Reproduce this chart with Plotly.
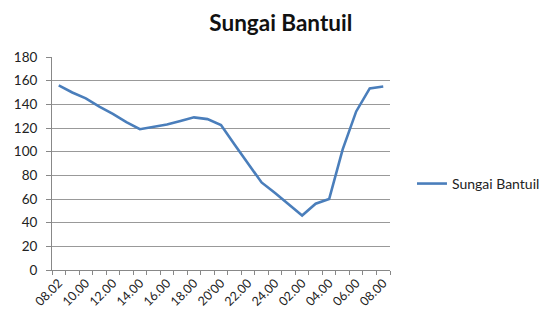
import plotly.graph_objects as go

times = ["08.02", "09.00", "10.00", "11.00", "12.00", "13.00", "14.00", "15.00",
         "16.00", "17.00", "18.00", "19.00", "20'00", "21.00", "22.00", "23.00",
         "24.00", "01.00", "02.00", "03.00", "04.00", "05.00", "06.00", "07.00", "08.00"]
values = [156, 150, 145, 138, 132, 125, 119, 121, 123, 126, 129, 127.5, 122.5, 106, 90, 74,
          65, 55.5, 46, 56, 60, 102, 134, 153.5, 155]
shown_labels = ["08.02", "10.00", "12.00", "14.00", "16.00", "18.00", "20'00",
                "22.00", "24.00", "02.00", "04.00", "06.00", "08.00"]
y_ticks = [0, 20, 40, 60, 80, 100, 120, 140, 160, 180]
series_name = "Sungai Bantuil"

ticktext = [t if t in shown_labels else "" for t in times]

fig = go.Figure()
fig.add_trace(go.Scatter(
    x=times, y=values, mode="lines", name=series_name,
    line=dict(color="#4A7EBB", width=2.6),
))

fig.update_layout(
    width=550, height=318,
    margin=dict(l=44, r=168, t=49, b=56),
    paper_bgcolor="white", plot_bgcolor="white",
    font=dict(family="Lato, Liberation Sans, sans-serif", size=12, color="#222"),
    title=dict(text="<b>Sungai Bantuil</b>", x=0.496, xanchor="center",
               y=0.953, yanchor="middle", font=dict(size=22.5, color="#111")),
    showlegend=True,
    legend=dict(x=1.065, y=0.404, xanchor="left", yanchor="middle",
                font=dict(size=14), bgcolor="rgba(0,0,0,0)"),
    xaxis=dict(type="category", range=[-0.5, len(times) - 0.5], automargin=False,
               tickmode="array", tickvals=times, ticktext=ticktext,
               tickson="boundaries", ticks="outside", ticklen=4, tickcolor="#888",
               tickangle=-45, showgrid=False, showline=True, linecolor="#888",
               linewidth=1, tickfont=dict(size=12.5)),
    yaxis=dict(range=[0, 180], tickvals=y_ticks, showgrid=True, gridcolor="#999",
               gridwidth=1, showline=True, linecolor="#888", ticks="outside",
               automargin=False, ticklen=5, tickcolor="#888", zeroline=False,
               ticklabelstandoff=6, tickfont=dict(size=13.5)),
)

fig.write_html("out.html")
